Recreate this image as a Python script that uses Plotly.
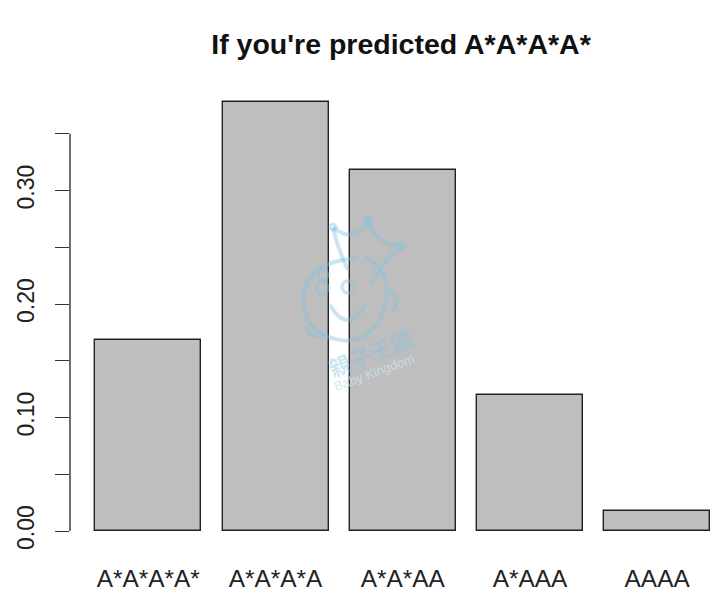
import plotly.graph_objs as go

# Data
grades = ["A*A*A*A*", "A*A*A*A", "A*A*AA", "A*AAA", "AAAA"]
shares = [0.168, 0.378, 0.318, 0.120, 0.0175]
bar_centres = [0.7, 1.9, 3.1, 4.3, 5.5]
y_ticks = [0.0, 0.05, 0.10, 0.15, 0.20, 0.25, 0.30, 0.35]
y_labels = ["0.00", "", "0.10", "", "0.20", "", "0.30", ""]

# the page body adds 8px all round, so the figure is 16px smaller than the window
PAGE = 8
W, H = 705, 593
L, R, T, B = 62, 0, 32.5, 69.5
TEXT = "#222222"
FONT = "Liberation Sans"
MARK = "rgba(130,195,225,0.42)"


def px(x):
    return (x - PAGE - L) / (W - L - R)


def py(y):
    return (H - B - (y - PAGE)) / (H - T - B)


fig = go.Figure()
fig.add_trace(go.Bar(x=bar_centres, y=shares, width=1.0,
                     marker=dict(color="#bebebe", line=dict(color="#222222", width=1.4)),
                     cliponaxis=False))

# y axis line only runs between the end ticks, like base R
shapes = [dict(type="line", xref="paper", yref="y", x0=0, x1=0,
               y0=y_ticks[0], y1=y_ticks[-1], line=dict(color="#333333", width=1.4))]


# watermark, in pixel positions of the page
def ring(cx, cy, r, width=3.5):
    return dict(type="circle", xref="paper", yref="paper",
                x0=px(cx - r), x1=px(cx + r), y0=py(cy + r), y1=py(cy - r),
                line=dict(color=MARK, width=width))


def curve(points, width=4):
    first = points[0]
    d = "M %.4f %.4f " % (px(first[0]), py(first[1]))
    for i in range(1, len(points) - 1, 2):
        d += "Q %.4f %.4f %.4f %.4f " % (px(points[i][0]), py(points[i][1]),
                                         px(points[i + 1][0]), py(points[i + 1][1]))
    return dict(type="path", xref="paper", yref="paper", path=d,
                line=dict(color=MARK, width=width))


shapes += [
    curve([(358, 258), (304, 262), (303, 300), (305, 338), (347, 341), (385, 336), (387, 290), (385, 268), (365, 257)]),
    ring(322, 288, 6), ring(348, 287, 6), ring(323, 275, 5, 3),
    curve([(330, 305), (347, 335), (365, 305)]),
    curve([(333, 227), (338, 250), (348, 270)]),
    curve([(333, 227), (355, 245), (368, 220)]),
    curve([(368, 220), (375, 245), (402, 246)]),
    curve([(402, 246), (380, 262), (372, 284)]),
    curve([(390, 290), (402, 300), (392, 312)]),
    curve([(306, 326), (310, 340), (325, 335)]),
    ring(333, 227, 3, 3), ring(368, 220, 3, 3), ring(402, 246, 3, 3),
]

annotations = [
    dict(text="<b>親子王國</b>", x=px(370), y=py(352), xref="paper", yref="paper", showarrow=False,
         xanchor="center", yanchor="middle", textangle=-22,
         font=dict(family="Noto Sans CJK TC", size=22, color=MARK)),
    dict(text="Baby Kingdom", x=px(374), y=py(373), xref="paper", yref="paper", showarrow=False,
         xanchor="center", yanchor="middle", textangle=-20,
         font=dict(family=FONT, size=13, color="rgba(205,228,240,0.8)")),
]

fig.update_layout(
    width=W, height=H, margin=dict(l=L, r=R, t=T, b=B), autosize=False,
    paper_bgcolor="white", plot_bgcolor="white", showlegend=False,
    bargap=0, shapes=shapes, annotations=annotations,
    title=dict(text="<b>If you're predicted A*A*A*A*</b>", x=(401 - PAGE) / W, xanchor="center",
               y=1 - (44 - PAGE) / H, yanchor="middle",
               font=dict(family=FONT, size=28.5, color="#111111")),
    xaxis=dict(range=[-0.0387, 6.027], showgrid=False, zeroline=False, showline=False,
               tickmode="array", tickvals=bar_centres, ticktext=grades, ticks="",
               ticklabelstandoff=31, tickfont=dict(family=FONT, size=24.4, color=TEXT)),
    yaxis=dict(range=[0, 0.4318], showgrid=False, zeroline=False, showline=False,
               tickmode="array", tickvals=y_ticks, ticktext=y_labels, tickangle=-90,
               ticks="outside", ticklen=14, tickwidth=1.4, tickcolor="#333333",
               ticklabelstandoff=12, tickfont=dict(family=FONT, size=23, color=TEXT)),
)

fig.write_html("out.html", config=dict(displayModeBar=False))
